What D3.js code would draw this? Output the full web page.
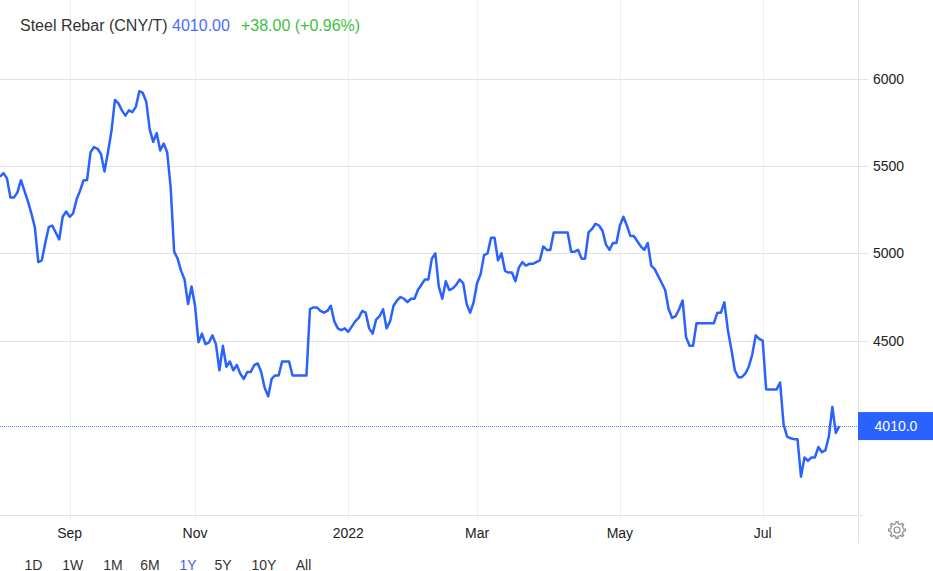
<!DOCTYPE html>
<html><head><meta charset="utf-8">
<script src="https://cdn.jsdelivr.net/npm/d3@7"></script>
<style>
body{margin:0;background:#fff;}
svg{display:block;font-family:"Liberation Sans",Arial,sans-serif;}
</style>
</head><body><svg id="c" width="933" height="571"></svg>
<script>
// ---- data ----
const values = [
5440,5460,5430,5320,5320,5350,5420,5360,5300,5230,
5150,4950,4960,5060,5150,5160,5120,5080,5210,5240,
5210,5230,5310,5360,5420,5420,5580,5610,5600,5570,
5470,5580,5700,5880,5860,5820,5790,5820,5810,5840,
5930,5920,5870,5710,5640,5690,5590,5630,5580,5380,
5010,4970,4900,4850,4710,4810,4700,4490,4540,4480,
4490,4530,4480,4330,4470,4350,4380,4330,4360,4310,
4280,4320,4320,4360,4370,4320,4230,4180,4280,4300,
4300,4380,4380,4380,4300,4300,4300,4300,4300,4680,
4690,4690,4670,4660,4670,4700,4610,4570,4560,4570,
4550,4580,4610,4630,4670,4660,4570,4540,4620,4640,
4680,4570,4610,4700,4730,4750,4740,4720,4740,4740,
4790,4820,4850,4850,4970,5000,4810,4740,4840,4790,
4800,4820,4850,4830,4710,4660,4720,4830,4880,4990,
5000,5090,5090,4960,5000,4900,4890,4890,4840,4920,
4950,4930,4940,4940,4950,4960,5040,5020,5020,5120,
5120,5120,5120,5120,5010,5010,5020,4970,4970,5120,
5140,5170,5160,5130,5050,5020,5060,5060,5160,5210,
5160,5100,5100,5070,5040,5020,5060,4930,4910,4870,
4830,4790,4680,4630,4640,4680,4730,4520,4470,4470,
4600,4600,4600,4600,4600,4600,4660,4660,4720,4560,
4450,4330,4290,4290,4310,4350,4420,4530,4510,4500,
4220,4220,4220,4220,4260,4020,3950,3940,3935,3935,
3720,3830,3810,3830,3830,3890,3860,3870,3950,4120,
3970,4010
];
const xTickIndex  = [20, 56, 100, 137, 178, 219];
const xTickLabels = ["Sep", "Nov", "2022", "Mar", "May", "Jul"];
const yTicks = [4500, 5000, 5500, 6000];
const rangeButtons = ["1D", "1W", "1M", "6M", "1Y", "5Y", "10Y", "All"];
const activeRange = "1Y";
const titleName = "Steel Rebar (CNY/T)";
const lastValue = 4010.00;
const changeAbs = 38.00;
const changePct = 0.96;

// ---- layout ----
const svg = d3.select("#c");
const plotRight = 858, plotBottom = 515;
const x = d3.scaleLinear().domain([0, values.length - 1]).range([0, 839.3]);
const y = d3.scaleLinear().domain([3500, 6453]).range([plotBottom, 0]);
const BLUE = "#2962ff";

// vertical grid
svg.append("g").selectAll("line").data(xTickIndex).join("line")
  .attr("x1", d => Math.round(x(d)) + 0.5).attr("x2", d => Math.round(x(d)) + 0.5)
  .attr("y1", 0).attr("y2", plotBottom + 6)
  .attr("stroke", "#eceff4").attr("stroke-width", 1);

// horizontal grid + right axis ticks
svg.append("g").selectAll("line").data(yTicks).join("line")
  .attr("x1", 0).attr("x2", plotRight + 10)
  .attr("y1", d => Math.round(y(d)) + 0.5).attr("y2", d => Math.round(y(d)) + 0.5)
  .attr("stroke", "#e3e3e3").attr("stroke-width", 1);

// axes lines
svg.append("line").attr("x1", 0).attr("x2", plotRight + 5)
  .attr("y1", plotBottom + 0.5).attr("y2", plotBottom + 0.5)
  .attr("stroke", "#e3e3e3");
svg.append("line").attr("x1", plotRight + 0.5).attr("x2", plotRight + 0.5)
  .attr("y1", 0).attr("y2", plotBottom + 28)
  .attr("stroke", "#e3e3e3");

// y labels
svg.append("g").selectAll("text").data(yTicks).join("text")
  .attr("x", 873).attr("y", d => y(d) + 5)
  .attr("font-size", 14).attr("fill", "#222")
  .text(d => d);

// x labels
svg.append("g").selectAll("text").data(xTickIndex).join("text")
  .attr("x", d => x(d)).attr("y", 538)
  .attr("text-anchor", "middle")
  .attr("font-size", 14).attr("fill", "#222")
  .text((d, i) => xTickLabels[i]);

// last value dotted line
svg.append("line").attr("x1", 0).attr("x2", plotRight)
  .attr("y1", Math.round(y(lastValue)) + 0.5).attr("y2", Math.round(y(lastValue)) + 0.5)
  .attr("stroke", BLUE).attr("stroke-width", 1).attr("stroke-dasharray", "1,1").attr("opacity", 0.8);

// price line
svg.append("path").datum(values)
  .attr("d", d3.line().x((d, i) => x(i)).y(d => y(d)))
  .attr("fill", "none").attr("stroke", BLUE).attr("stroke-width", 2.5)
  .attr("stroke-linejoin", "round");

// last value label
svg.append("rect").attr("x", plotRight).attr("y", y(lastValue) - 14)
  .attr("width", 933 - plotRight).attr("height", 28).attr("fill", BLUE);
svg.append("text").attr("x", 896).attr("y", y(lastValue) + 5)
  .attr("text-anchor", "middle").attr("font-size", 14).attr("fill", "#fff")
  .text(lastValue.toFixed(1));

// title
const t = svg.append("text").attr("x", 20).attr("y", 31).attr("font-size", 16);
t.append("tspan").attr("fill", "#333").text(titleName + " ");
t.append("tspan").attr("fill", "#4d6bfe").text(lastValue.toFixed(2));
t.append("tspan").attr("fill", "#3cc23c").attr("dx", 11)
  .text("+" + changeAbs.toFixed(2) + " (+" + changePct.toFixed(2) + "%)");

// range buttons
const btnX = [33.5, 72.7, 113, 150, 188, 223, 264, 303.5];
svg.append("g").selectAll("text").data(rangeButtons).join("text")
  .attr("x", (d, i) => btnX[i]).attr("y", 570)
  .attr("text-anchor", "middle").attr("font-size", 14)
  .attr("fill", d => d === activeRange ? "#4d5bf0" : "#333")
  .text(d => d);

// gear icon
(function () {
  const cx = 897, cy = 530, rO = 8.5, rI = 6.5, n = 8;
  const pts = [];
  for (let k = 0; k < n; k++) {
    const a0 = (k / n) * 2 * Math.PI;
    const w = Math.PI / n;
    [[a0 - w * 0.45, rI], [a0 - w * 0.3, rO], [a0 + w * 0.3, rO], [a0 + w * 0.45, rI], [a0 + w * 0.55, rI]]
      .forEach(([a, r]) => pts.push([cx + r * Math.cos(a), cy + r * Math.sin(a)]));
  }
  svg.append("path").attr("d", d3.line().curve(d3.curveLinearClosed)(pts))
    .attr("fill", "none").attr("stroke", "#8a8a8a").attr("stroke-width", 1.2);
  svg.append("circle").attr("cx", cx).attr("cy", cy).attr("r", 3)
    .attr("fill", "none").attr("stroke", "#8a8a8a").attr("stroke-width", 1.2);
})();
</script>
</body></html>
